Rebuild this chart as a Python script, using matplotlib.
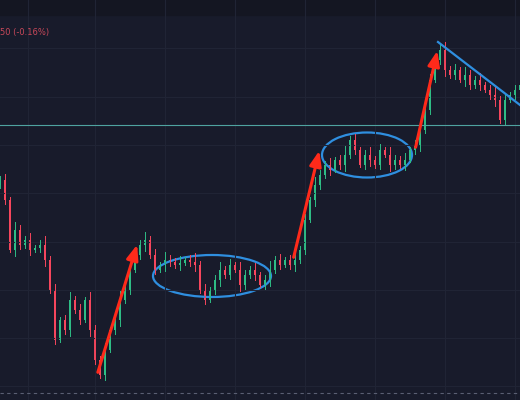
import matplotlib.pyplot as plt
from matplotlib.patches import Ellipse

# closing levels (screen units, top = 0) sampled every 5 px
closes = [180, 200, 250, 230, 245, 240, 250, 248, 245, 260, 290, 340, 320, 330, 300,
          310, 320, 300, 330, 360, 375, 350, 330, 320, 300, 290, 270, 255, 245, 240,
          255, 270, 265, 260, 262, 265, 263, 260, 262, 265, 290, 300, 290, 280, 270,
          275, 265, 270, 285, 275, 270, 275, 285, 280, 270, 260, 265, 260, 265, 260,
          250, 220, 200, 185, 175, 165, 170, 160, 165, 155, 140, 150, 165, 155, 160,
          165, 150, 155, 165, 160, 165, 160, 150, 145, 130, 110, 80, 60, 50, 70,
          75, 70, 80, 75, 85, 80, 85, 90, 95, 100, 120, 100, 95, 90, 85]
wicks = [4, 6, 3, 8, 5, 4, 7, 3, 5, 9, 4, 6, 3, 5, 8]

arrows = [((97, 375), (138, 242)), ((293, 260), (320, 148)), ((415, 150), (438, 48))]
ellipses = [((212, 276), 118, 42), ((367, 155), 90, 45)]

bg = "#181b2b"
up, down = "#2ebd85", "#f6465d"

fig = plt.figure(figsize=(5.2, 4.0), dpi=100, facecolor=bg)
ax = fig.add_axes([0, 0, 1, 1], facecolor=bg)
ax.set_xlim(0, 520)
ax.set_ylim(400, 0)
ax.axis("off")

for gx in [28, 95, 165, 235, 305, 375, 445, 515]:
    ax.axvline(gx, color="#202435", lw=0.8)
for gy in [48, 97, 145, 193, 242, 290, 338, 386]:
    ax.axhline(gy, color="#202435", lw=0.8)
ax.axhspan(0, 15, color="#141622")

prev = closes[0] + 5
for i, c in enumerate(closes):
    x = i * 5
    o = prev
    col = up if c < o else down
    w = wicks[i % len(wicks)]
    ax.plot([x, x], [min(o, c) - w, max(o, c) + w * 0.7], color=col, lw=0.7)
    ax.bar(x, max(abs(c - o), 1), bottom=min(o, c), width=2.4, color=col)
    prev = c

ax.axhline(125, color="#4fa3a0", lw=0.8)
ax.axhline(393, color="#5a5f73", lw=0.8, ls=(0, (3, 3)))

for (x0, y0), (x1, y1) in arrows:
    ax.annotate("", xy=(x1, y1), xytext=(x0, y0),
                arrowprops=dict(arrowstyle="-|>,head_width=0.35,head_length=0.9",
                                color="#ff2a1a", lw=2.2))
for (cx, cy), w, h in ellipses:
    ax.add_patch(Ellipse((cx, cy), w, h, fill=False, ec="#2f8fe0", lw=1.6))
ax.plot([438, 520], [42, 105], color="#2f8fe0", lw=1.6)

ax.text(0, 32, "50 (-0.16%)", color="#c9485a", fontsize=6, va="center")

fig.savefig("out.png", facecolor=bg)
